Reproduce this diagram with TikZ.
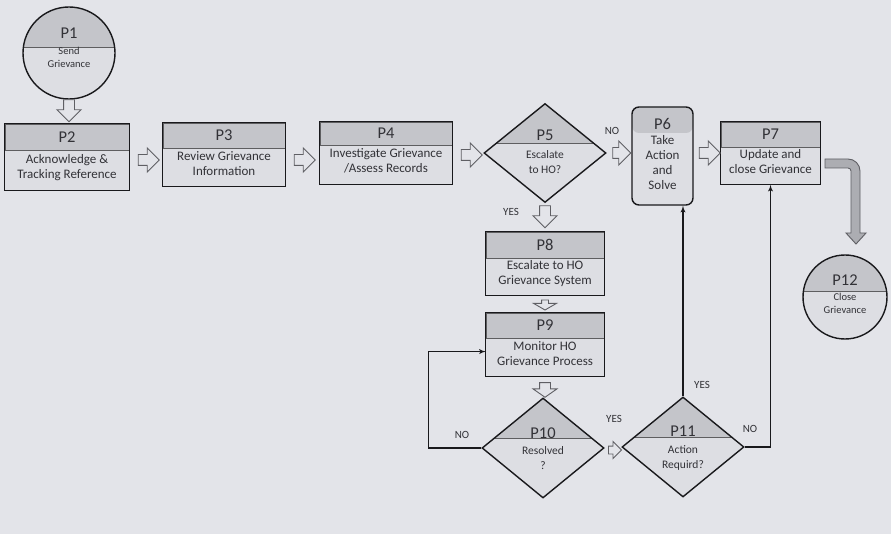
\documentclass[tikz,border=0pt]{standalone}
\usepackage{fontspec}
\setmainfont{Carlito}
\usepackage{xcolor}
\usepackage{tikz}
\usetikzlibrary{shapes, arrows, positioning, calc}
\definecolor{paper}{RGB}{227,228,233}
\definecolor{boxfill}{RGB}{221,222,227}
\definecolor{bandfill}{RGB}{196,197,202}
\definecolor{inkgray}{RGB}{50,50,55}
\definecolor{lineblack}{RGB}{25,25,28}
\definecolor{arrowgray}{RGB}{95,95,100}
\definecolor{bendfill}{RGB}{172,173,178}
\tikzstyle{phead} = [rectangle, draw=lineblack!70, line width=0.7pt, fill=bandfill, inner sep=0pt, text=inkgray, font=\fontsize{16.5}{18}\selectfont]
\tikzstyle{pbody} = [rectangle, fill=boxfill, inner sep=0pt, text depth=9pt, text=inkgray, align=center, font=\fontsize{13}{15}\selectfont]
\tikzstyle{frame} = [draw=lineblack, line width=1.4pt]
\tikzstyle{plabel} = [inner sep=0pt, text=inkgray, font=\fontsize{16.5}{18}\selectfont]
\tikzstyle{dtext} = [inner sep=0pt, text=inkgray, align=center, font=\fontsize{11.5}{15}\selectfont]
\tikzstyle{ctext} = [inner sep=0pt, text=inkgray, align=center, font=\fontsize{10.5}{13}\selectfont]
\tikzstyle{decision} = [diamond, draw=lineblack, line width=1.4pt, fill=boxfill, inner sep=0pt, minimum width=122pt, minimum height=99pt,
  path picture={\fill[bandfill] ([xshift=-70pt,yshift=10pt]path picture bounding box.center) rectangle ([xshift=70pt,yshift=60pt]path picture bounding box.center);
    \draw[lineblack!70, line width=0.7pt] ([xshift=-70pt,yshift=10pt]path picture bounding box.center) -- ([xshift=70pt,yshift=10pt]path picture bounding box.center);}]
\tikzstyle{terminal} = [circle, draw=lineblack, line width=1.4pt, fill=boxfill, inner sep=0pt,
  path picture={\fill[bandfill] ([xshift=-50pt,yshift=6pt]path picture bounding box.center) rectangle ([xshift=50pt,yshift=50pt]path picture bounding box.center);
    \draw[lineblack!70, line width=0.7pt] ([xshift=-50pt,yshift=6pt]path picture bounding box.center) -- ([xshift=50pt,yshift=6pt]path picture bounding box.center);}]
\tikzstyle{action} = [rectangle, rounded corners=7pt, draw=lineblack, line width=1.4pt, fill=boxfill, minimum width=61pt, minimum height=98pt,
  path picture={\fill[bandfill] ([yshift=-26pt]path picture bounding box.north west) rectangle (path picture bounding box.north east);}]
\tikzstyle{blockarrow} = [single arrow, draw=arrowgray, fill=paper, line width=0.9pt, inner sep=5pt, single arrow head extend=6.5pt, minimum height=21pt]
\tikzstyle{bendarrow} = [draw=arrowgray, fill=bendfill, line width=0.9pt]
\tikzstyle{ans} = [inner sep=0pt, text=inkgray, font=\fontsize{11}{13}\selectfont]
\tikzstyle{link} = [draw=lineblack, -latex', line width=1.3pt]

\begin{document}
\begin{tikzpicture}[x=1pt, y=-1pt]
    \fill [paper] (0,0) rectangle (891,534);
    \useasboundingbox (0,0) rectangle (891,534);

    % Start
    \node (p1) [terminal, minimum size=92pt] at (69,53) {};
    \node (p1t) [plabel] at (69,33) {P1};
    \node (p1b) [ctext] at (69,57.5) {Send\\Grievance};

    % Top row
    \node (p2h) [phead, minimum width=124pt, minimum height=26pt] at (67,137) {P2};
    \node (p2) [pbody, minimum width=124pt, minimum height=40pt, below=0pt of p2h] {Acknowledge \&\\Tracking Reference};
    \draw [frame] (p2h.north west) rectangle (p2.south east);

    \node (p3h) [phead, minimum width=122pt, minimum height=25pt] at (224,135.5) {P3};
    \node (p3) [pbody, minimum width=122pt, minimum height=38pt, below=0pt of p3h] {Review Grievance\\Information};
    \draw [frame] (p3h.north west) rectangle (p3.south east);

    \node (p4h) [phead, minimum width=132pt, minimum height=23pt] at (386,133.5) {P4};
    \node (p4) [pbody, minimum width=132pt, minimum height=39pt, below=0pt of p4h] {Investigate Grievance\\/Assess Records};
    \draw [frame] (p4h.north west) rectangle (p4.south east);

    \node (p5) [decision] at (545,153) {};
    \node (p5t) [plabel] at (545,135) {P5};
    \node (p5b) [dtext] at (545,162.5) {Escalate\\to HO?};

    \node (p6) [action] at (662.5,156) {};
    \node (p6t) [plabel] at (662.5,124) {P6};
    \node (p6b) [pbody, fill=none, text depth=3pt] at (662.5,163.5) {Take\\Action\\and\\Solve};

    \node (p7h) [phead, minimum width=99pt, minimum height=25pt] at (770.5,134.5) {P7};
    \node (p7) [pbody, minimum width=99pt, minimum height=37pt, below=0pt of p7h] {Update and\\close Grievance};
    \draw [frame] (p7h.north west) rectangle (p7.south east);

    % End
    \node (p12) [terminal, minimum size=84pt] at (845,297) {};
    \node (p12t) [plabel] at (845,280) {P12};
    \node (p12b) [ctext] at (845,303.5) {Close\\Grievance};

    % Escalation branch
    \node (p8h) [phead, minimum width=118pt, minimum height=26pt] at (545,245) {P8};
    \node (p8) [pbody, minimum width=118pt, minimum height=37pt, below=0pt of p8h] {Escalate to HO\\Grievance System};
    \draw [frame] (p8h.north west) rectangle (p8.south east);

    \node (p9h) [phead, minimum width=118pt, minimum height=25pt] at (545,325.5) {P9};
    \node (p9) [pbody, minimum width=118pt, minimum height=38pt, below=0pt of p9h] {Monitor HO\\Grievance Process};
    \draw [frame] (p9h.north west) rectangle (p9.south east);

    \node (p10) [decision, minimum height=100pt] at (543,448) {};
    \node (p10t) [plabel] at (543,433) {P10};
    \node (p10b) [dtext] at (543,458.5) {Resolved\\?};

    \node (p11) [decision, minimum height=100pt] at (683,447) {};
    \node (p11t) [plabel] at (683,431) {P11};
    \node (p11b) [dtext] at (683,458) {Action\\Requird?};

    % Block arrows
    \node (a12) [blockarrow, shape border rotate=270, minimum height=22pt] at (69,108) {};
    \node (a23) [blockarrow] at (146,160) {};
    \node (a34) [blockarrow] at (302,160) {};
    \node (a45) [blockarrow] at (469,155) {};
    \node (a56) [blockarrow, minimum height=18pt] at (619,153) {};
    \node (a67) [blockarrow] at (707,153) {};
    \node (a58) [blockarrow, shape border rotate=270, minimum height=22pt] at (545,214) {};
    \node (a89) [blockarrow, shape border rotate=270, inner sep=3pt, single arrow head extend=8pt, single arrow tip angle=120, minimum height=10pt] at (545,304) {};
    \node (a910) [blockarrow, shape border rotate=270, single arrow tip angle=110, minimum height=13pt] at (545,388) {};
    \node (a1011) [blockarrow, inner sep=3.5pt, single arrow head extend=4.5pt, minimum height=13pt] at (613,450) {};
    \draw [bendarrow] (825,159) -- (848,159) arc[start angle=90, end angle=0, radius=12pt] -- (860,233) -- (866,233) -- (856,244) -- (846,233) -- (851,233) -- (851,171) arc[start angle=0, end angle=90, radius=3pt] -- (825,168) -- cycle;

    % Lines
    \draw [link] (p10.west) -- ++(-53,0) |- ([yshift=6pt]p9.west);
    \draw [link] (p11.north) -- (p11.north |- p6.south);
    \draw [link] (p11.east) -| (p7.south);

    % Labels
    \node (no5) [ans] at (612,131) {NO};
    \node (yes5) [ans] at (511,212) {YES};
    \node (no10) [ans] at (462,435) {NO};
    \node (yes10) [ans] at (614,419) {YES};
    \node (yes11) [ans] at (702,385) {YES};
    \node (no11) [ans] at (750,429) {NO};
\end{tikzpicture}
\end{document}
